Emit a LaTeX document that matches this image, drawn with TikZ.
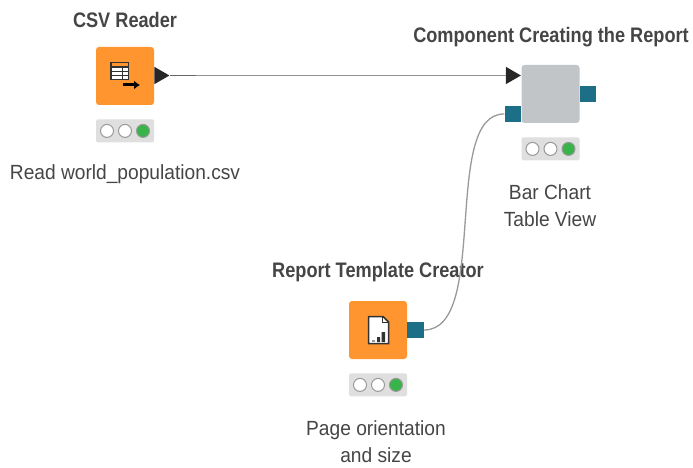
\documentclass[tikz,border=0pt]{standalone}
\usepackage{fontspec}
\setmainfont{Liberation Sans}
\usetikzlibrary{positioning,shapes.geometric,arrows.meta}
\definecolor{knimeorange}{HTML}{FF952F}
\definecolor{knimegray}{HTML}{C2C5C8}
\definecolor{knimeblue}{HTML}{1C6F87}
\definecolor{lampgreen}{HTML}{38B44A}
\definecolor{labeltext}{HTML}{454545}
\tikzset{
  node box/.style={
    fill=#1,
    rounded corners=3pt,
    minimum width=58pt,
    minimum height=58pt,
    inner sep=0pt,
  },
  lamp box/.style={
    fill=gray!25,
    rounded corners=1.5pt,
    minimum width=58pt,
    minimum height=23pt,
    inner sep=0pt,
  },
  lamp/.style={
    circle,
    draw=gray!80,
    line width=1pt,
    fill=#1,
    minimum size=13pt,
    inner sep=0pt,
  },
  data port/.style={
    fill=knimeblue,
    minimum size=16.5pt,
    inner sep=0pt,
  },
  table port/.style={
    isosceles triangle,
    isosceles triangle apex angle=60,
    fill=black!85,
    minimum height=15pt,
    minimum width=16pt,
    inner sep=0pt,
  },
  title/.style={
    font=\fontsize{21}{24}\selectfont\addfontfeature{FakeStretch=0.865}\bfseries,
    text=labeltext,
  },
  annotation/.style={
    font=\fontsize{20.5}{27}\selectfont\addfontfeature{FakeStretch=0.935},
    text=labeltext,
    align=center,
  },
  wire/.style={
    draw=gray!#1,
    line width=1.3pt,
  },
}
\begin{document}
\begin{tikzpicture}[x=1pt,y=-1pt,node distance=0pt]
    \useasboundingbox (0,0) rectangle (693,468);

    % csv reader
    \node [node box=knimeorange] (csv) at (125,76) {};
    \node [lamp box, below=14pt of csv] (lamps-csv) {};
    \node [table port, right=0pt of csv, yshift=0.5pt] (csv out) {};
    \coordinate (csv stub) at (196,75.5);
    \node [title] (csv title) at (125,20) {CSV Reader};
    \node [annotation] (csv note) at (125,174) {Read world\_population.csv};

    % component
    \node [node box=knimegray] (comp) at (550.5,94) {};
    \node [lamp box, below=14pt of comp] (lamps-comp) {};
    \node [table port, left=0pt of comp, yshift=18.5pt] (comp in) {};
    \node [data port, left=0pt of comp, yshift=-20pt] (comp port) {};
    \node [data port, right=0pt of comp, yshift=0pt] (comp out) {};
    \node [title] (comp title) at (551,37) {Component Creating the Report};
    \node [annotation] (comp note) at (550,205.5) {Bar Chart\\Table View};

    % report template
    \node [node box=knimeorange] (report) at (378,330) {};
    \node [lamp box, below=14pt of report] (lamps-report) {};
    \node [data port, right=0pt of report] (report out) {};
    \node [title] (report title) at (378,272) {Report Template Creator};
    \node [annotation] (report note) at (376,441.5) {Page orientation\\and size};

    % lamps
    \foreach \name in {csv,comp,report} {
        \node [lamp=white, xshift=-18pt] (red-\name) at (lamps-\name) {};
        \node [lamp=white] (yellow-\name) at (lamps-\name) {};
        \node [lamp=lampgreen, xshift=18pt] (green-\name) at (lamps-\name) {};
    }

    % wires
    \draw [wire=85] (csv out.apex) -- (comp in.west);
    \draw [wire=120] (csv out.apex) -- (csv stub);
    \draw [wire=80] (report out.east) .. controls (490,330) and (441,113) .. (comp port.west);

    % icons
    \begin{scope}[shift={(csv.center)}]
        \fill [black!80] (-15,-14) rectangle (4,4);
        \fill [knimeorange] (-13.5,-12.5) rectangle (2.5,-9.5);
        \foreach \i in {-13.5,-8,-2.5} \foreach \j in {-8,-3.5,0}
            \fill [white] (\i,\j) rectangle ++(5,3);
        \draw [line width=3pt, black, -{Latex[length=6pt,width=9pt]}] (-2,9) -- (15,9);
    \end{scope}
    \begin{scope}[shift={(report.center)}]
        \draw [line width=1.5pt, draw=black!80, fill=white] (-9.5,-13.5) -- (5,-13.5) -- (10.5,-8) -- (10.5,13.5) -- (-9.5,13.5) -- cycle;
        \draw [line width=1.2pt, draw=black!80] (4.5,-13.5) -- (4.5,-7.5) -- (10.5,-7.5);
        \fill [black!80] (-1,7) rectangle (2,12) (3.5,2) rectangle (7,12);
        \fill [black!40] (-6,9.5) rectangle (-3,12);
    \end{scope}
\end{tikzpicture}
\end{document}
